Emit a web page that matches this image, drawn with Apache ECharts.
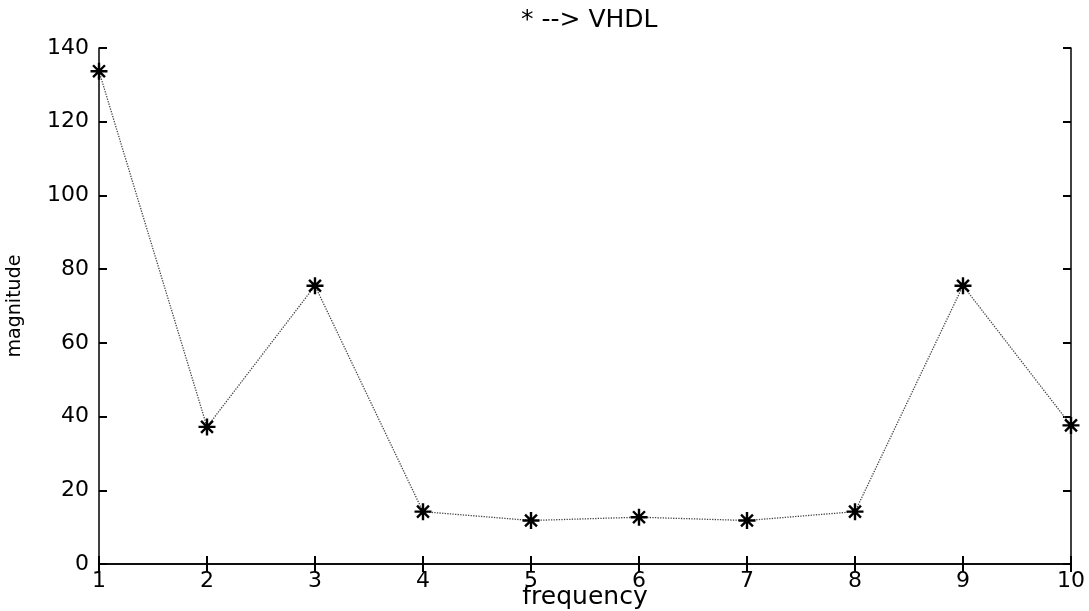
<!DOCTYPE html>
<html>
<head>
<meta charset="utf-8">
<script src="https://cdn.jsdelivr.net/npm/echarts@6/dist/echarts.min.js"></script>
<style>
  html, body { margin: 0; padding: 0; background: #fff; }
  #chartmain { width: 1089px; height: 611px; }
</style>
</head>
<body>
<div id="chartmain"></div>
<script>
var frequency = [1, 2, 3, 4, 5, 6, 7, 8, 9, 10];
var magnitude = [133.7, 37.2, 75.5, 14.2, 11.8, 12.7, 11.8, 14.2, 75.5, 37.6];
var yTicks = [0, 20, 40, 60, 80, 100, 120, 140];

var points = [];
for (var i = 0; i < frequency.length; i++) {
	points.push([frequency[i], magnitude[i]]);
}

// asterisk marker, drawn as strokes
var star = 'path://M-10,0L10,0M0,-10L0,10M-7,-7L7,7M-7,7L7,-7';
var font = 'DejaVu Sans';

var frameAxis = {
	axisLine : { show : true, lineStyle : { color : '#000', width : 1.5 } },
	axisTick : { show : true, inside : true, length : 8, lineStyle : { color : '#000', width : 2 } },
	splitLine : { show : false }
};

var option = {
	backgroundColor : '#fff',
	animation : false,
	title : {
		text : '* --> VHDL',
		left : 516,
		top : 3,
		textStyle : { fontFamily : font, fontSize : 25, fontWeight : 'normal', color : '#000' }
	},
	grid : { left : 99, right : 18, top : 48, bottom : 47, outerBoundsMode : 'none' },
	xAxis : [ Object.assign({
		type : 'value',
		min : 1,
		max : 10,
		interval : 1,
		name : 'frequency',
		nameLocation : 'middle',
		nameGap : 21,
		nameMoveOverlap : false,
		nameTextStyle : { fontFamily : font, fontSize : 25, color : '#000', lineHeight : 25 },
		axisLabel : { fontFamily : font, fontSize : 22, color : '#000', margin : 6 }
	}, frameAxis), Object.assign({
		type : 'value',
		position : 'top',
		min : 1,
		max : 10,
		interval : 1,
		axisLabel : { show : false }
	}, frameAxis) ],
	yAxis : [ Object.assign({
		type : 'value',
		min : yTicks[0],
		max : yTicks[yTicks.length - 1],
		interval : 20,
		name : 'magnitude',
		nameLocation : 'middle',
		nameGap : 74,
		nameMoveOverlap : false,
		nameTextStyle : { fontFamily : font, fontSize : 19, color : '#000' },
		axisLabel : { fontFamily : font, fontSize : 22, color : '#000', margin : 10 }
	}, frameAxis), Object.assign({
		type : 'value',
		position : 'right',
		min : yTicks[0],
		max : yTicks[yTicks.length - 1],
		interval : 20,
		axisLabel : { show : false }
	}, frameAxis) ],
	series : [ {
		type : 'line',
		data : points,
		symbol : star,
		symbolSize : 17,
		itemStyle : { color : 'rgba(0,0,0,0)', borderColor : '#000', borderWidth : 2.4 },
		lineStyle : { color : '#444', width : 1.3, type : 'dotted' }
	} ]
};

var myChart = echarts.init(document.getElementById('chartmain'));
myChart.setOption(option);
</script>
</body>
</html>
